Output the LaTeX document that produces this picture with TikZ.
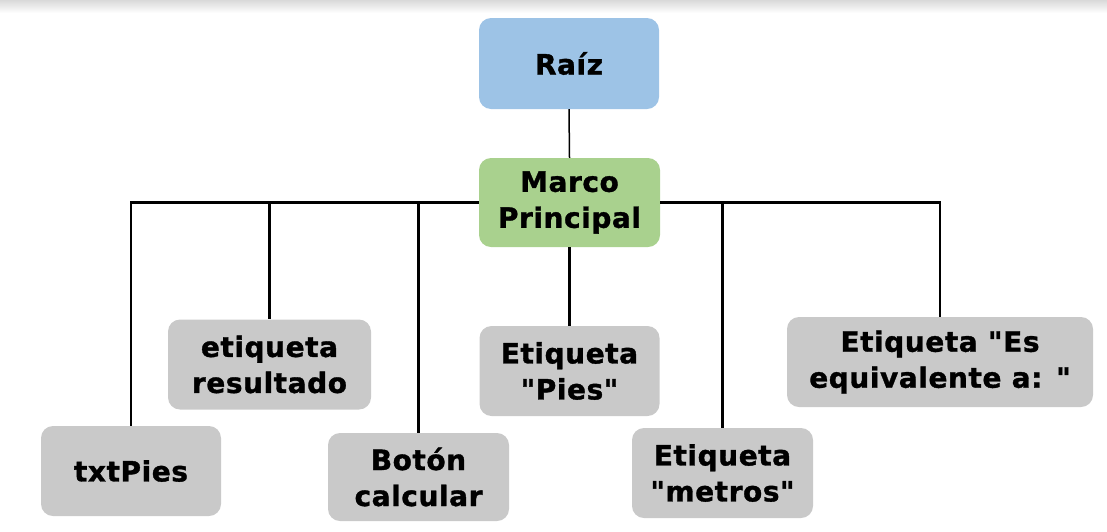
\documentclass[tikz,border=0pt]{standalone}
\usepackage{fontspec}
\setmainfont{DejaVu Sans}[Ligatures=TeXOff, LetterSpace=2, BoldFeatures={FakeBold=1.2}]
\usetikzlibrary{positioning}
\definecolor{rootBlue}{HTML}{9DC3E6}
\definecolor{frameGreen}{HTML}{A9D18E}
\definecolor{leafGrey}{HTML}{C9C9C9}
\tikzset{
  box/.style     = {rounded corners=12pt, align=center, inner sep=0pt,
                    font=\fontsize{28}{36}\selectfont\bfseries, text=black},
  rootbox/.style = {box, fill=rootBlue, minimum width=180pt, minimum height=91pt},
  mainbox/.style = {box, fill=frameGreen, minimum width=181pt, minimum height=89pt},
  leaf/.style    = {box, fill=leafGrey, minimum height=90pt},
  link/.style    = {line width=2.1pt, black},
}

\begin{document}
\begin{tikzpicture}[x=1pt,y=-1pt]
  \useasboundingbox (0,0) rectangle (1107,531);
  \shade[top color=black!15, bottom color=white] (0,0) rectangle (1107,13);
  \node[rootbox] (raiz) at (569,63.5) {Raíz};
  \node[mainbox] (marco) at (569.5,202.5) {Marco\\Principal};
  % children of the main frame
  \node[leaf, minimum width=180pt] (txt) at (131,471) {txtPies};
  \node[leaf, minimum width=203pt] (res) at (269.5,364.5) {etiqueta\\resultado};
  \node[leaf, minimum width=181pt, minimum height=88pt] (boton) at (418.5,477) {Botón\\calcular};
  \node[leaf, minimum width=180pt] (pies) at (569.5,371) {Etiqueta\\"Pies"};
  \node[leaf, minimum width=181pt] (metros) at (722.5,473) {Etiqueta\\"metros"};
  \node[leaf, minimum width=306pt] (equiv) at (940,362) {Etiqueta "Es\\equivalente a: "};
  % connectors
  \draw[link, line width=1.5pt] (raiz.south) -- (marco.north);
  \draw[link] (marco.south) -- (pies.north);
  \draw[link] (marco.west) -| (txt.north);
  \draw[link] (marco.west) -| (res.north);
  \draw[link] (marco.west) -| (boton.north);
  \draw[link] (marco.east) -| (metros.north);
  \draw[link] (marco.east) -| (equiv.north);
\end{tikzpicture}
\end{document}
